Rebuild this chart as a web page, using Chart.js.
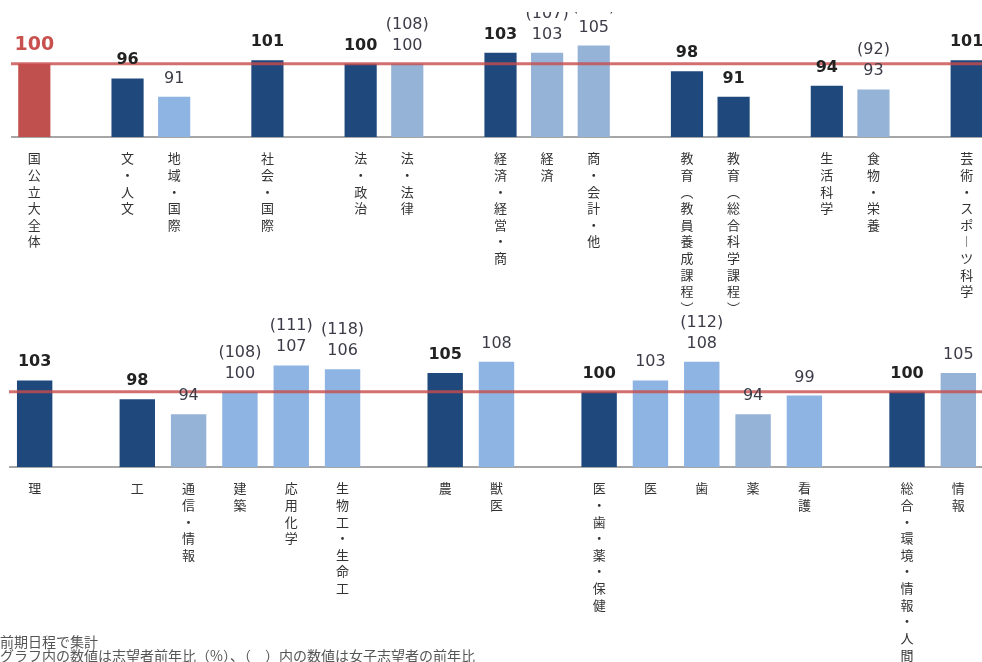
<!DOCTYPE html>
<html>
<head>
<meta charset="utf-8">
<script src="https://cdn.jsdelivr.net/npm/chart.js@4.4.1/dist/chart.umd.min.js"></script>
<style>
  html, body { margin: 0; padding: 0; background: #fff; overflow: hidden; }
  body { position: relative; width: 982px; height: 662px; }
  canvas { position: absolute; }
  #chart-top { left: 11px; top: -2px; }
  #chart-bottom { left: 9px; top: 300px; }
  .note { position: absolute; left: 0; font-family: "Noto Sans CJK JP", sans-serif; font-size: 14px; color: #555; line-height: 14px; white-space: nowrap; }
</style>
</head>
<body>
<canvas id="chart-top" width="979" height="319"></canvas>
<canvas id="chart-bottom" width="975" height="387"></canvas>
<div class="note" style="top:634px">前期日程で集計</div>
<div class="note" style="top:648px">グラフ内の数値は志望者前年比（%）、（　）内の数値は女子志望者の前年比</div>

<script>
// --- DATA: upper panel ---
const topLabels = ['国公立大全体', '', '文・人文', '地域・国際', '', '社会・国際', '', '法・政治', '法・法律', '',
    '経済・経営・商', '経済', '商・会計・他', '', '教育（教員養成課程）', '教育（総合科学課程）', '',
    '生活科学', '食物・栄養', '', '芸術・スポーツ科学'];
const topValues = [100, null, 96, 91, null, 101, null, 100, 100, null,
    103, 103, 105, null, 98, 91, null, 94, 93, null, 101];
const topFemale = [null, null, null, null, null, null, null, null, 108, null,
    null, 107, 111, null, null, null, null, null, 92, null, null];
// all = 全体, major = 系統計, sub = 学科, sub2 = 学科(その他)
const topKinds = ['all', '', 'major', 'sub', '', 'major', '', 'major', 'sub2', '',
    'major', 'sub2', 'sub2', '', 'major', 'major', '', 'major', 'sub2', '', 'major'];

// --- DATA: lower panel ---
const botLabels = ['理', '', '工', '通信・情報', '建築', '応用化学', '生物工・生命工', '',
    '農', '獣医', '', '医・歯・薬・保健', '医', '歯', '薬', '看護', '',
    '総合・環境・情報・人間', '情報'];
const botValues = [103, null, 98, 94, 100, 107, 106, null,
    105, 108, null, 100, 103, 108, 94, 99, null, 100, 105];
const botFemale = [null, null, null, null, 108, 111, 118, null,
    null, null, null, null, null, 112, null, null, null, null, null];
const botKinds = ['major', '', 'major', 'sub2', 'sub', 'sub', 'sub', '',
    'major', 'sub', '', 'major', 'sub', 'sub', 'sub2', 'sub', '', 'major', 'sub2'];

const refValue = 100;
const yMin = 80, yMax = 118;

// --- STYLE ---
const kindColor = { all: '#C0504D', major: '#1F497D', sub: '#8DB4E2', sub2: '#95B3D7', '': 'rgba(0,0,0,0)' };
const numFont = '"DejaVu Sans", Verdana, sans-serif';

// vertical text: one character per line, with vertical forms for bars and brackets
const vertMap = { 'ー': '︱', '（': '︵', '）': '︶' };
function toVertical(label) {
    return label ? Array.from(label).map(c => vertMap[c] || c) : '';
}

// red 100-line + value labels
const valueLabels = {
    id: 'valueLabels',
    afterDatasetsDraw(chart, args, opts) {
        const ctx = chart.ctx;
        const area = chart.chartArea;
        const y100 = chart.scales.y.getPixelForValue(refValue);

        ctx.save();
        ctx.strokeStyle = 'rgba(200, 75, 75, 0.8)';
        ctx.lineWidth = 3;
        ctx.beginPath();
        ctx.moveTo(area.left, y100);
        ctx.lineTo(chart.width, y100);
        ctx.stroke();
        ctx.restore();

        ctx.save();
        ctx.beginPath();
        ctx.rect(0, opts.clipTop || 0, chart.width, chart.height);
        ctx.clip();
        ctx.textAlign = 'center';
        ctx.textBaseline = 'alphabetic';
        const meta = chart.getDatasetMeta(0);
        meta.data.forEach((bar, i) => {
            const v = opts.values[i];
            if (v == null) return;
            const kind = opts.kinds[i];
            const yText = bar.y - 14;
            if (kind === 'all') {
                ctx.font = 'bold 19px ' + numFont;
                ctx.fillStyle = '#C8504D';
            } else if (kind === 'major') {
                ctx.font = 'bold 16px ' + numFont;
                ctx.fillStyle = '#222';
            } else {
                ctx.font = '16px ' + numFont;
                ctx.fillStyle = '#3c3c48';
            }
            ctx.fillText(String(v), bar.x, yText);
            const f = opts.female[i];
            if (f != null) {
                ctx.font = '16px ' + numFont;
                ctx.fillStyle = '#3c3c48';
                ctx.fillText('(' + f + ')', bar.x, yText - 21);
            }
        });
        ctx.restore();
    }
};

function makePanel(id, labels, values, female, kinds, clipTop, axisHeight, padTop) {
    return new Chart(document.getElementById(id), {
        type: 'bar',
        data: {
            labels: labels,
            datasets: [{
                data: values,
                backgroundColor: kinds.map(k => kindColor[k]),
                barPercentage: 0.69,
                categoryPercentage: 1
            }]
        },
        options: {
            responsive: false,
            animation: false,
            layout: { padding: { top: padTop, left: 0, right: 0, bottom: 0 } },
            plugins: {
                legend: { display: false },
                tooltip: { enabled: false },
                valueLabels: { values: values, female: female, kinds: kinds, clipTop: clipTop }
            },
            scales: {
                x: {
                    grid: { display: false, drawTicks: false },
                    border: { display: true, color: '#a6a6a6', width: 2 },
                    ticks: {
                        autoSkip: false,
                        maxRotation: 0,
                        minRotation: 0,
                        padding: 13,
                        color: '#333',
                        font: { family: '"Noto Sans CJK JP", sans-serif', size: 13, lineHeight: 1.28 },
                        callback: (val, i) => toVertical(labels[i])
                    },
                    afterFit: s => { s.height = axisHeight; }
                },
                y: {
                    display: false,
                    min: yMin,
                    max: yMax
                }
            }
        },
        plugins: [valueLabels]
    });
}

makePanel('chart-top', topLabels, topValues, topFemale, topKinds, 14, 180, 0);
makePanel('chart-bottom', botLabels, botValues, botFemale, botKinds, 0, 220, 24);
</script>
</body>
</html>
